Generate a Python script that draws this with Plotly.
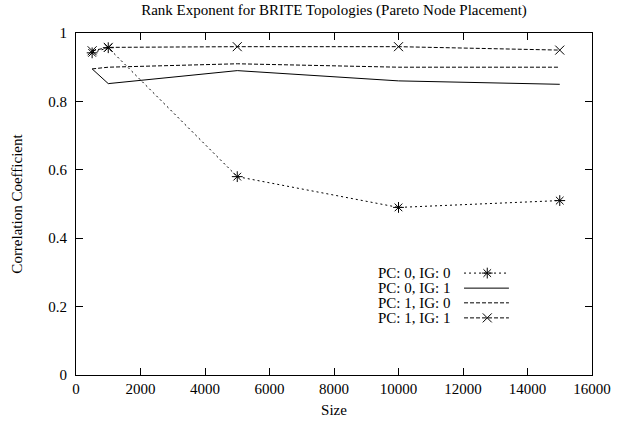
import plotly.graph_objects as go

sizes = [500, 1000, 5000, 10000, 15000]
pc0_ig0 = [0.942, 0.957, 0.58, 0.49, 0.51]
pc0_ig1 = [0.895, 0.852, 0.89, 0.86, 0.85]
pc1_ig0 = [0.895, 0.90, 0.91, 0.90, 0.90]
pc1_ig1 = [0.948, 0.958, 0.96, 0.96, 0.95]
labels = ["PC: 0, IG: 0", "PC: 0, IG: 1", "PC: 1, IG: 0", "PC: 1, IG: 1"]
x_ticks = [0, 2000, 4000, 6000, 8000, 10000, 12000, 14000, 16000]
x_tick_text = ["0", "2000", "4000", "6000", "8000", "10000", "12000", "14000", "16000"]
y_ticks = [0, 0.2, 0.4, 0.6, 0.8, 1]
y_tick_text = ["0", "0.2", "0.4", "0.6", "0.8", "1"]

series = [pc0_ig0, pc0_ig1, pc1_ig0, pc1_ig1]
styles = [
    dict(dash="2px,3px", symbol="asterisk-open", mode="lines+markers"),
    dict(dash="solid", symbol=None, mode="lines"),
    dict(dash="4px,2px", symbol=None, mode="lines"),
    dict(dash="4px,2px", symbol="x-thin-open", mode="lines+markers"),
]

FONT = "Liberation Serif"
FS = 15
fig = go.Figure()
for vals, st, name in zip(series, styles, labels):
    kw = {}
    if st["symbol"]:
        kw["marker"] = dict(symbol=st["symbol"], size=9,
                            line=dict(color="black", width=1), color="black")
    fig.add_trace(go.Scatter(x=sizes, y=vals, mode=st["mode"], name=name,
                             line=dict(color="black", width=1, dash=st["dash"]),
                             showlegend=False, hoverinfo="skip", **kw))

# gnuplot-style key: text then sample line on the right
leg_y = [0.298, 0.254, 0.211, 0.167]
for i, (st, name) in enumerate(zip(styles, labels)):
    y = leg_y[i]
    fig.add_trace(go.Scatter(x=[0.752, 0.839], y=[y, y], mode="lines",
                             line=dict(color="black", width=1, dash=st["dash"]),
                             xaxis="x2", yaxis="y2", showlegend=False, hoverinfo="skip"))
    if st["symbol"]:
        fig.add_trace(go.Scatter(x=[0.797], y=[y], mode="markers",
                                 marker=dict(symbol=st["symbol"], size=9, color="black",
                                             line=dict(color="black", width=1)),
                                 xaxis="x2", yaxis="y2", showlegend=False, hoverinfo="skip"))
    fig.add_annotation(x=0.731, y=y, xref="paper", yref="paper", text=name,
                       showarrow=False, xanchor="right", yanchor="middle",
                       font=dict(family=FONT, size=FS, color="black"))

axis_common = dict(showgrid=False, zeroline=False, showline=True, linecolor="black",
                   linewidth=1, mirror="ticks", ticks="inside", ticklen=7,
                   tickcolor="black", automargin=False,
                   tickfont=dict(family=FONT, size=FS, color="black"))

fig.update_layout(
    width=629, height=428,
    margin=dict(l=76, r=37, t=33, b=53),
    paper_bgcolor="white", plot_bgcolor="white",
    hovermode=False,
    title=dict(text="Rank Exponent for BRITE Topologies (Pareto Node Placement)",
               x=0.5, xref="paper", xanchor="center", y=1 - 10 / 428, yanchor="middle",
               font=dict(family=FONT, size=FS, color="black")),
    xaxis=dict(range=[0, 16000], tickvals=x_ticks, ticktext=x_tick_text,
               title=dict(text="Size", font=dict(family=FONT, size=FS, color="black"), standoff=8),
               **axis_common),
    yaxis=dict(range=[0, 1], tickvals=y_ticks, ticktext=y_tick_text, ticklabelstandoff=5,
               title=dict(text="Correlation Coefficient", font=dict(family=FONT, size=FS, color="black"), standoff=22),
               **axis_common),
    xaxis2=dict(overlaying="x", range=[0, 1], visible=False),
    yaxis2=dict(overlaying="y", range=[0, 1], visible=False),
    showlegend=False,
)

fig.write_html("out.html", config={"displayModeBar": False, "staticPlot": True},
               post_script="document.body.style.margin='0';")
